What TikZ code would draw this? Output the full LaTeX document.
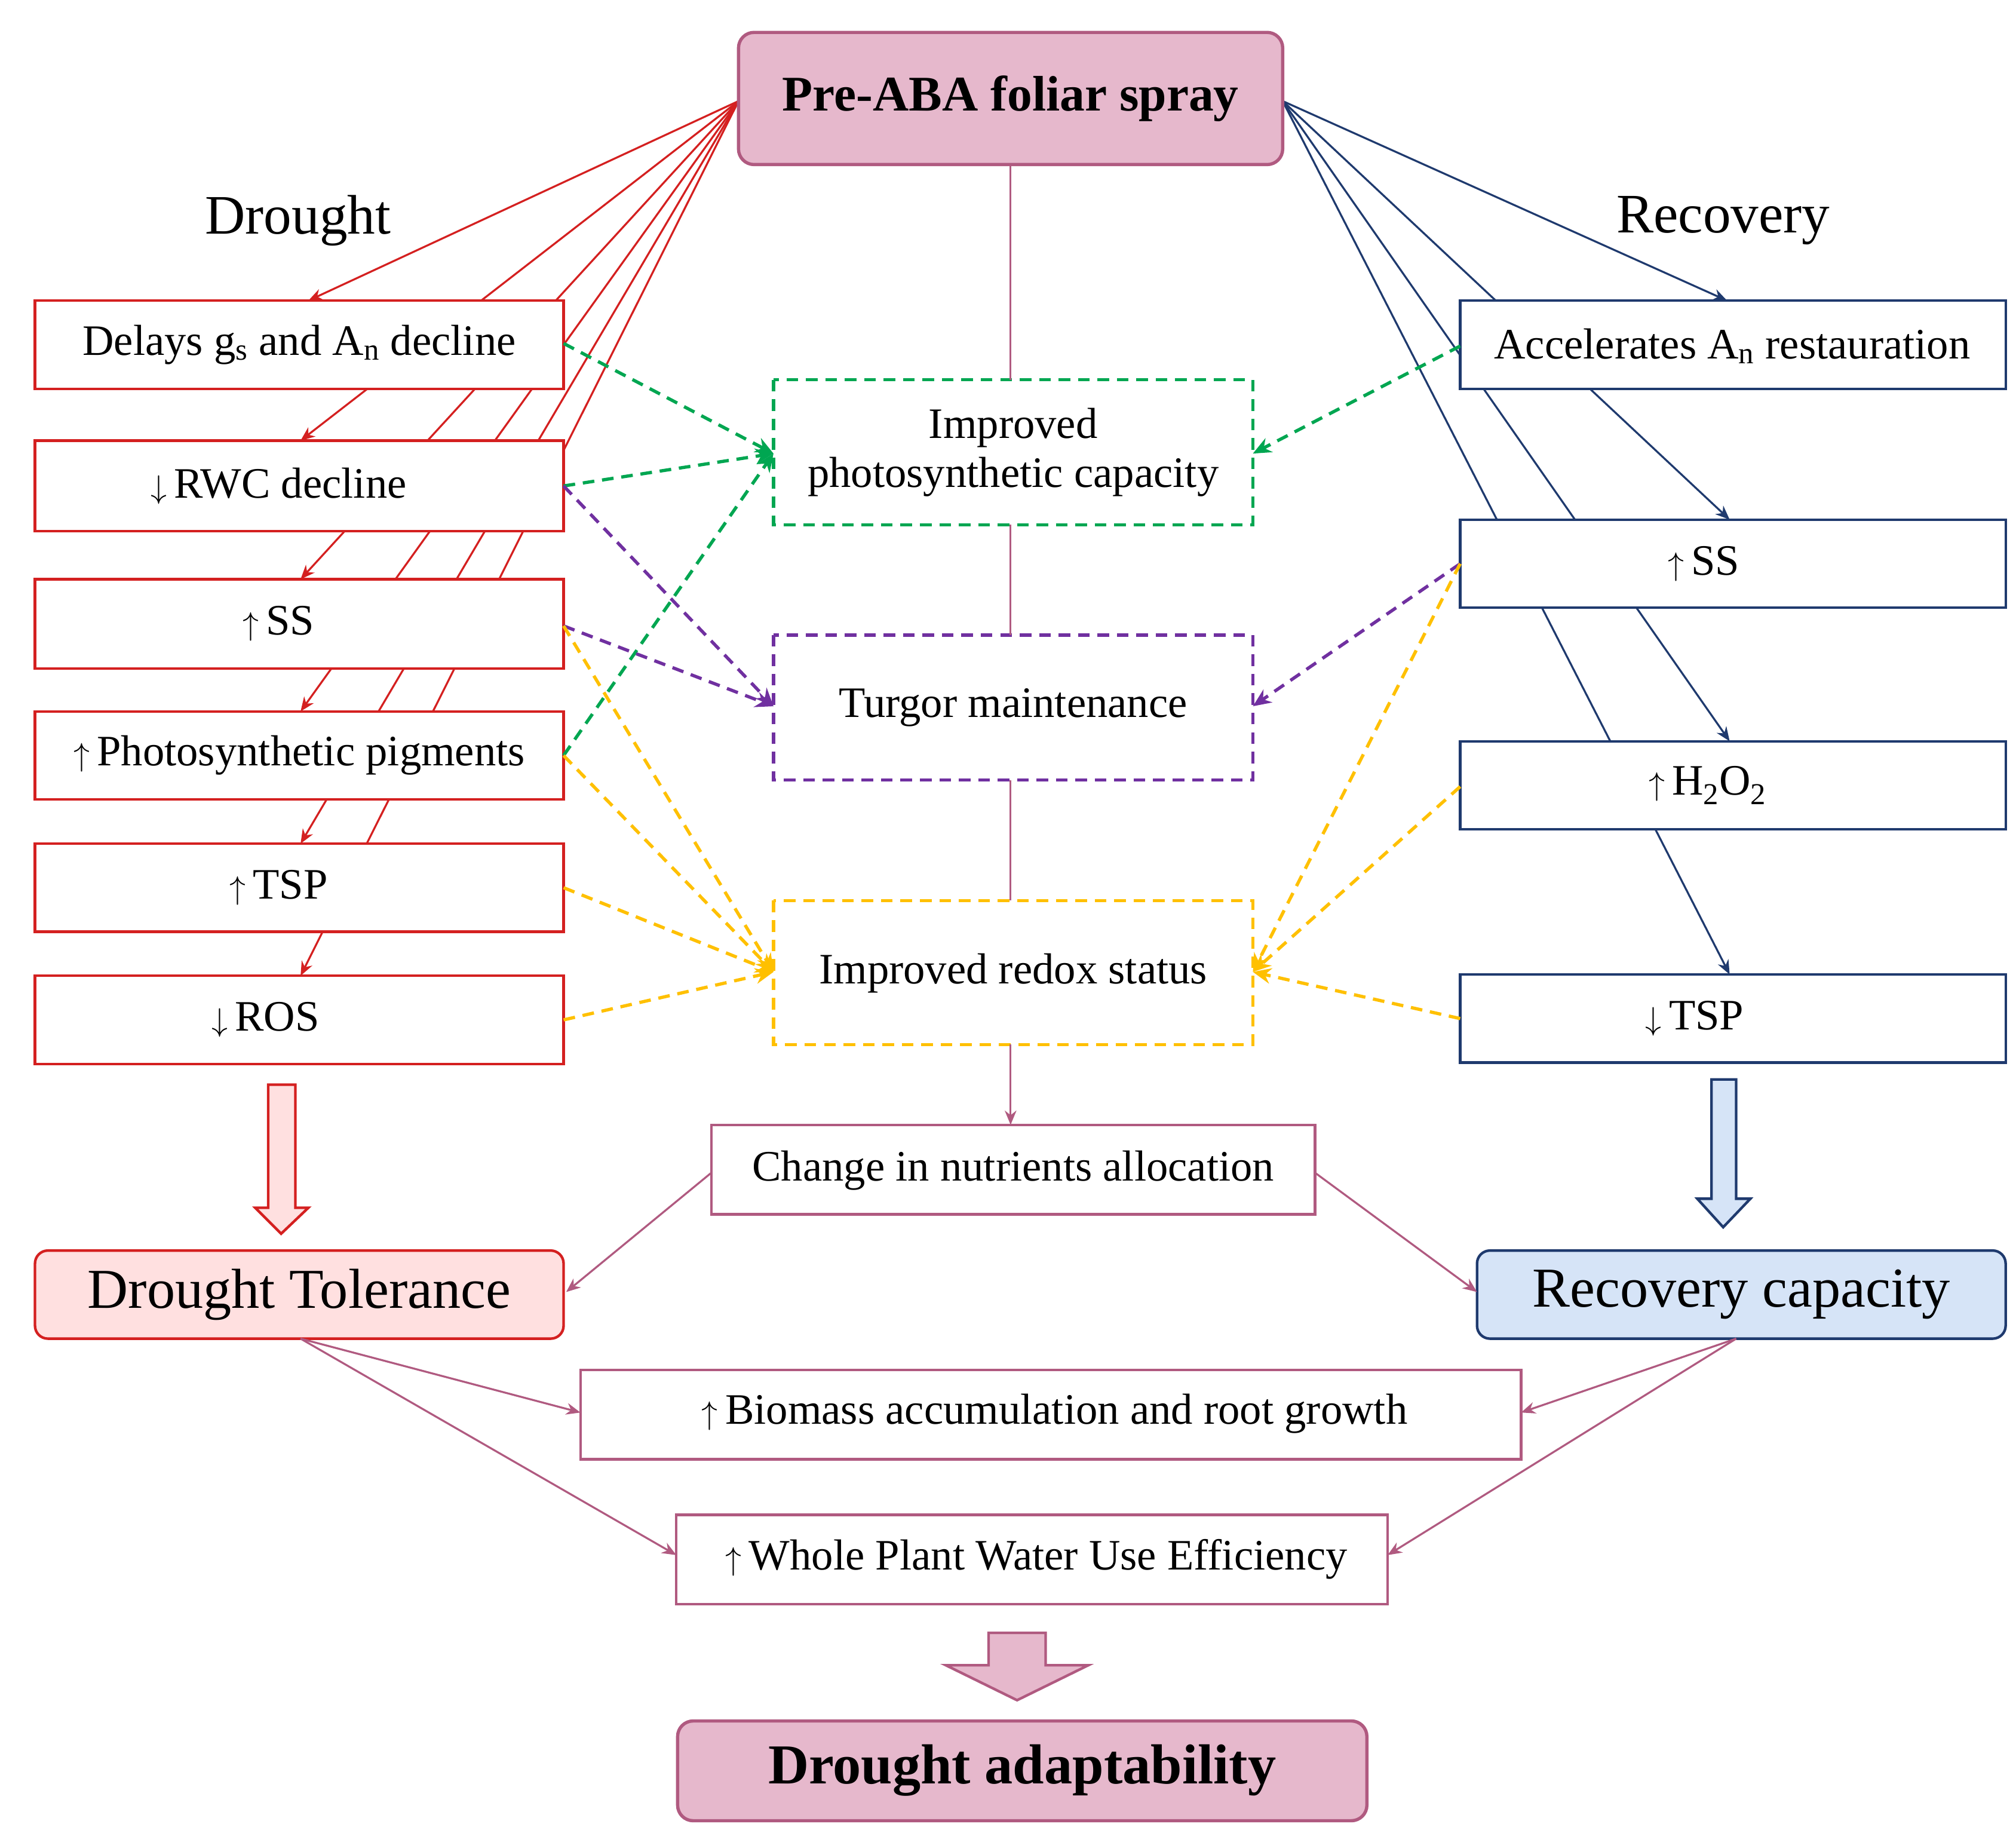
\documentclass[tikz,border=0pt]{standalone}
\usepackage{fontspec}
\setmainfont{Liberation Serif}
\usetikzlibrary{arrows.meta}
\definecolor{dred}{HTML}{D42020}
\definecolor{navy}{HTML}{1F3A6E}
\definecolor{dgreen}{HTML}{00A651}
\definecolor{dpurp}{HTML}{7030A0}
\definecolor{dyel}{HTML}{FFC000}
\definecolor{pinkl}{HTML}{B05A80}
\definecolor{pinkf}{HTML}{E6B8CC}
\definecolor{lpink}{HTML}{FFE0E0}
\definecolor{lblue}{HTML}{D6E4F7}
\newcommand{\myup}{$\big\uparrow$\,}
\newcommand{\mydown}{$\big\downarrow$\,}
\begin{document}
\begin{tikzpicture}[x=1pt,y=-1pt,
 txt/.style={font=\fontsize{33.5}{38}\selectfont},
 rbox/.style={draw=dred,line width=2pt,fill=white},
 nbox/.style={draw=navy,line width=2pt,fill=white},
 pbox/.style={draw=pinkl,line width=2pt,fill=white},
 rl/.style={dred,line width=1.5pt},
 nl/.style={navy,line width=1.5pt},
 pl/.style={pinkl,line width=1.5pt},
 tip/.style={-{Stealth[length=11pt,width=9pt]}},
 gd/.style={dgreen,line width=2.5pt,dash pattern=on 9pt off 6pt,-{Stealth[length=14pt,width=12pt]}},
 pd/.style={dpurp,line width=2.5pt,dash pattern=on 9pt off 6pt,-{Stealth[length=14pt,width=12pt]}},
 yd/.style={dyel,line width=2.5pt,dash pattern=on 9pt off 6pt,-{Stealth[length=14pt,width=12pt]}}]
\useasboundingbox (0,0) rectangle (1556,1412);
\coordinate (PL) at (570,78); \coordinate (PR) at (990,78);
% long arrows, partly hidden behind boxes
\draw[rl,tip] (PL) -- (238,232);
\draw[rl,tip] (PL) -- (232,340);
\draw[rl,tip] (PL) -- (232,447);
\draw[rl,tip] (PL) -- (232,549);
\draw[rl,tip] (PL) -- (232,651);
\draw[rl,tip] (PL) -- (232,753);
\draw[nl,tip] (PR) -- (1333,232);
\draw[nl,tip] (PR) -- (1335,401);
\draw[nl,tip] (PR) -- (1335,572);
\draw[nl,tip] (PR) -- (1335,752);
% top
\draw[draw=pinkl,fill=pinkf,line width=2.5pt,rounded corners=12pt] (570,25) rectangle (990,127);
\node (pre) at (780,76) {\fontsize{38.5}{40}\selectfont\bfseries Pre-ABA foliar spray};
\node (dl) at (230,170) {\fontsize{43}{45}\selectfont Drought};
\node (rl) at (1330,170) {\fontsize{43}{45}\selectfont Recovery};
% left boxes
\draw[rbox] (27,232) rectangle (435,300); \node[txt] (l1) at (231,266) {Delays g\textsubscript{s} and A\textsubscript{n} decline};
\draw[rbox] (27,340) rectangle (435,410); \node[txt] (l2) at (215,375) {\mydown RWC decline};
\draw[rbox] (27,447) rectangle (435,516); \node[txt] (l3) at (215,481) {\myup SS};
\draw[rbox] (27,549) rectangle (435,617); \node[txt] (l4) at (231,583) {\myup Photosynthetic pigments};
\draw[rbox] (27,651) rectangle (435,719); \node[txt] (l5) at (215,685) {\myup TSP};
\draw[rbox] (27,753) rectangle (435,821); \node[txt] (l6) at (205,787) {\mydown ROS};
% right boxes
\draw[nbox] (1127,232) rectangle (1548,300); \node[txt] (r1) at (1337,267) {Accelerates A\textsubscript{n} restauration};
\draw[nbox] (1127,401) rectangle (1548,469); \node[txt] (r2) at (1315,435) {\myup SS};
\draw[nbox] (1127,572) rectangle (1548,640); \node[txt] (r3) at (1318,606) {\myup H\textsubscript{2}O\textsubscript{2}};
\draw[nbox] (1127,752) rectangle (1548,820); \node[txt] (r4) at (1308,786) {\mydown TSP};
% center boxes
\draw[dgreen,line width=2.5pt,dash pattern=on 9pt off 6pt] (597,293) rectangle (967,405);
\node[txt,align=center] (g) at (782,349) {Improved\\photosynthetic capacity};
\draw[dpurp,line width=2.5pt,dash pattern=on 9pt off 6pt] (597,490) rectangle (967,602);
\node[txt] (t) at (782,546) {Turgor maintenance};
\draw[dyel,line width=2.5pt,dash pattern=on 9pt off 6pt] (597,695) rectangle (967,806);
\node[txt] (y) at (782,751) {Improved redox status};
\draw[pl] (780,127) -- (780,293);
\draw[pl] (780,405) -- (780,490);
\draw[pl] (780,602) -- (780,695);
\draw[pl,tip] (780,806) -- (780,868);
% dashed
\draw[gd] (435,265) -- (597,350);
\draw[gd] (435,375) -- (597,350);
\draw[gd] (435,583) -- (597,350);
\draw[gd] (1127,267) -- (967,350);
\draw[pd] (435,375) -- (597,545);
\draw[pd] (435,483) -- (597,545);
\draw[pd] (1127,435) -- (967,545);
\draw[yd] (435,483) -- (597,750);
\draw[yd] (435,583) -- (597,750);
\draw[yd] (435,685) -- (597,750);
\draw[yd] (435,787) -- (597,750);
\draw[yd] (1127,435) -- (967,750);
\draw[yd] (1127,607) -- (967,750);
\draw[yd] (1127,786) -- (967,750);
% hollow arrows
\draw[dred,fill=lpink,line width=2pt] (207,837) -- (228,837) -- (228,932) -- (238,932) -- (217,952) -- (197,932) -- (207,932) -- cycle;
\draw[navy,fill=lblue,line width=2pt] (1321,833) -- (1340,833) -- (1340,925) -- (1351,925) -- (1330,947) -- (1310,925) -- (1321,925) -- cycle;
% nutrients
\draw[pbox] (549,868) rectangle (1015,937); \node[txt] (nu) at (782,903) {Change in nutrients allocation};
\draw[dred,fill=lpink,line width=2pt,rounded corners=10pt] (27,965) rectangle (435,1033);
\node (dt) at (231,999) {\fontsize{43.5}{45}\selectfont Drought Tolerance};
\draw[navy,fill=lblue,line width=2pt,rounded corners=10pt] (1140,965) rectangle (1548,1033);
\node (rc) at (1344,999) {\fontsize{43.5}{45}\selectfont Recovery capacity};
\draw[pl,tip] (549,905) -- (437,997);
\draw[pl,tip] (1015,905) -- (1140,997);
% bottom
\draw[pbox] (448,1057) rectangle (1174,1126); \node[txt] (bm) at (814,1091) {\myup Biomass accumulation and root growth};
\draw[pbox] (522,1169) rectangle (1071,1238); \node[txt] (wu) at (800,1203) {\myup Whole Plant Water Use Efficiency};
\draw[pl,tip] (232,1033) -- (448,1090);
\draw[pl,tip] (232,1033) -- (522,1200);
\draw[pl,tip] (1340,1033) -- (1174,1090);
\draw[pl,tip] (1340,1033) -- (1071,1200);
\draw[pinkl,fill=pinkf,line width=2pt] (763,1260) -- (807,1260) -- (807,1285) -- (840,1285) -- (785,1312) -- (730,1285) -- (763,1285) -- cycle;
\draw[draw=pinkl,fill=pinkf,line width=2.5pt,rounded corners=12pt] (523,1328) rectangle (1055,1405);
\node (da) at (789,1366) {\fontsize{43.5}{45}\selectfont\bfseries Drought adaptability};
\end{tikzpicture}
\end{document}
